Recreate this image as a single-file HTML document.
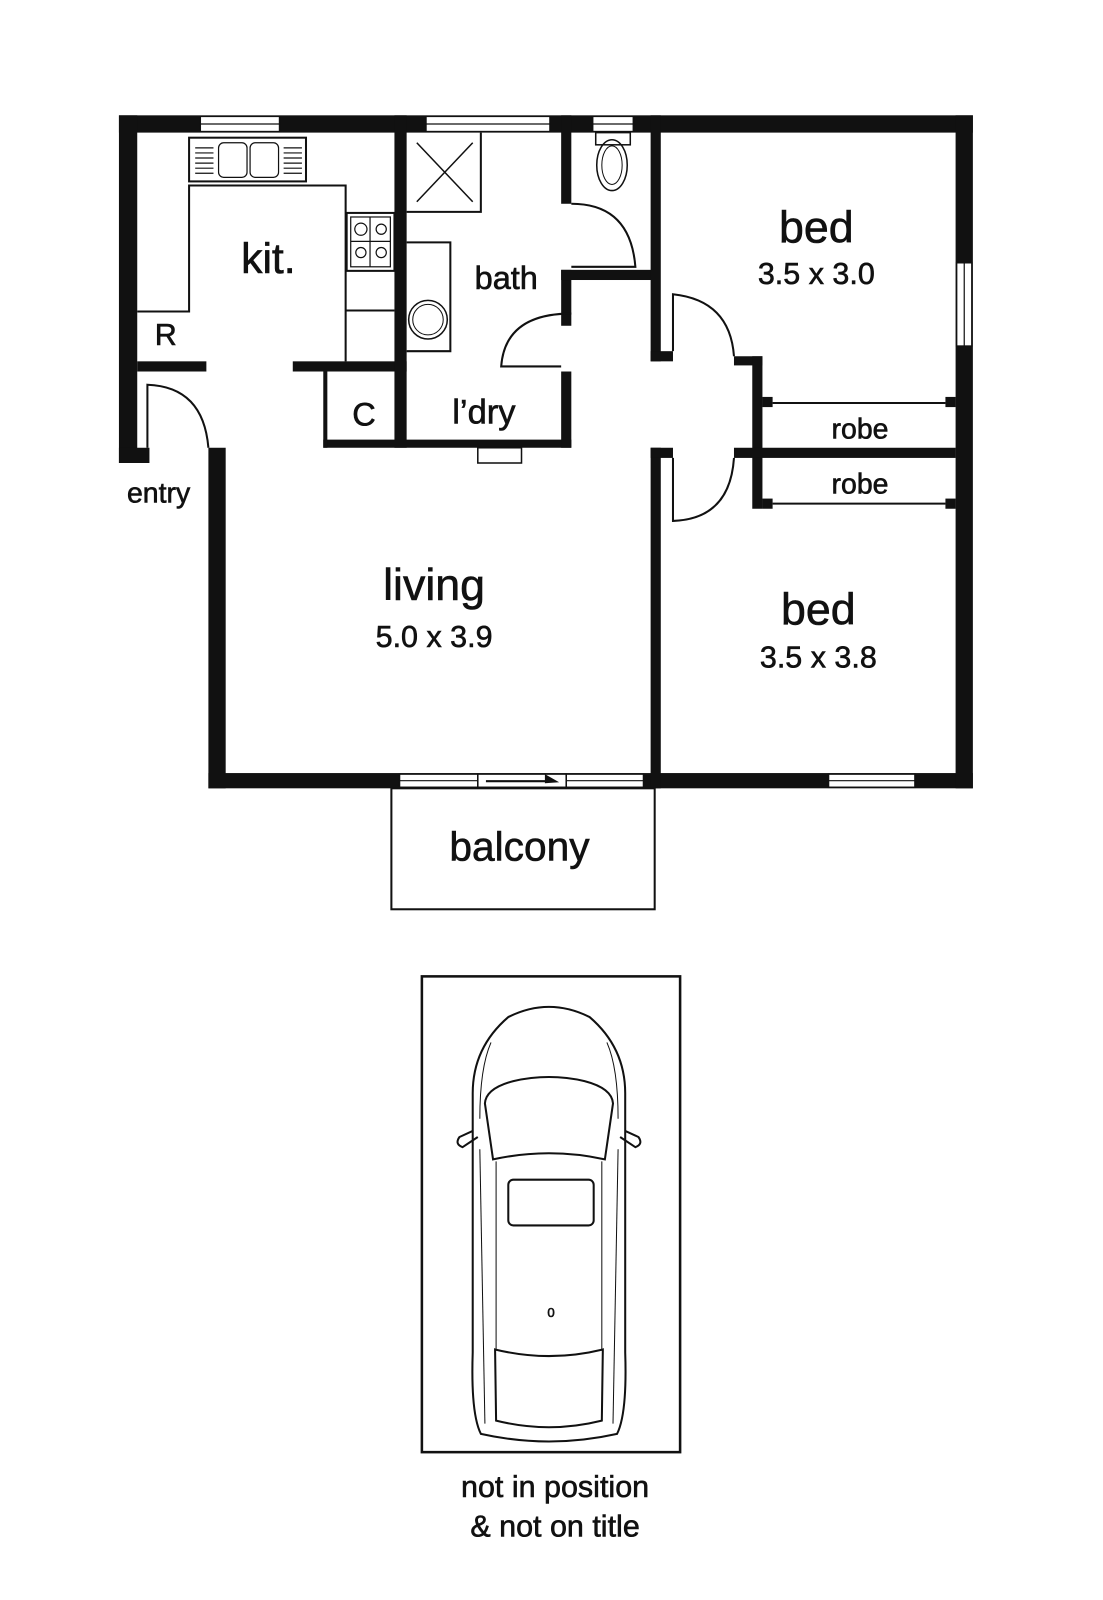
<!DOCTYPE html>
<html><head><meta charset="utf-8"><style>
html,body{margin:0;padding:0;background:#fff;}
svg{display:block;}
text{font-family:"Liberation Sans",Arial,sans-serif;fill:#111;stroke:#111;stroke-width:0.6;}
</style></head><body>
<svg width="1103" height="1600" viewBox="0 0 1085 1573" xmlns="http://www.w3.org/2000/svg">
<g fill="#111">
<rect x="117" y="113" width="840" height="17"/>
<rect x="117" y="113" width="18" height="342"/>
<rect x="117" y="440" width="30" height="15"/>
<rect x="205" y="440" width="17" height="335"/>
<rect x="205" y="760" width="752" height="15"/>
<rect x="940" y="113" width="17" height="662"/>
<rect x="135" y="355" width="68" height="10"/>
<rect x="288" y="355" width="112" height="10"/>
<rect x="388" y="113" width="12" height="327"/>
<rect x="318" y="432" width="244" height="8"/>
<rect x="318" y="365" width="4" height="75"/>
<rect x="552" y="365" width="10" height="75"/>
<rect x="552" y="265" width="10" height="55"/>
<rect x="552" y="113" width="10" height="87"/>
<rect x="552" y="265" width="90" height="10"/>
<rect x="640" y="113" width="10" height="242"/>
<rect x="640" y="345" width="22" height="10"/>
<rect x="640" y="440" width="10" height="335"/>
<rect x="640" y="440" width="22" height="10"/>
<rect x="722" y="350" width="28" height="9"/>
<rect x="740" y="350" width="10" height="150"/>
<rect x="722" y="440" width="218" height="10"/>
<rect x="750" y="390" width="10" height="10"/>
<rect x="930" y="390" width="10" height="10"/>
<rect x="750" y="490" width="10" height="10"/>
<rect x="930" y="490" width="10" height="10"/>
</g>
<g fill="#fff" stroke="#111" stroke-width="1.5">
<rect x="197" y="114" width="78" height="15"/>
<rect x="419" y="114" width="122" height="15"/>
<rect x="583" y="114" width="40" height="15"/>
<rect x="941" y="258" width="15" height="82"/>
<rect x="393" y="761" width="77" height="13"/>
<rect x="470" y="761" width="87" height="13"/>
<rect x="557" y="761" width="76" height="13"/>
<rect x="815" y="761" width="85" height="13"/>
</g>
<g stroke="#111" stroke-width="1.2">
<line x1="197" y1="121.5" x2="275" y2="121.5"/>
<line x1="419" y1="121.5" x2="541" y2="121.5"/>
<line x1="583" y1="121.5" x2="623" y2="121.5"/>
<line x1="948.5" y1="258" x2="948.5" y2="340"/>
<line x1="393" y1="767.5" x2="470" y2="767.5"/>
<line x1="557" y1="767.5" x2="633" y2="767.5"/>
<line x1="815" y1="767.5" x2="900" y2="767.5"/>
</g>
<line x1="478" y1="768" x2="540" y2="768" stroke="#111" stroke-width="2"/>
<polygon points="536,761 550,769 536,770" fill="#111"/>
<g fill="none" stroke="#111" stroke-width="2">
<line x1="760" y1="396" x2="930" y2="396"/>
<line x1="760" y1="495" x2="930" y2="495"/>
<path d="M135 306 H186 V182 H340 V355"/>
<rect x="186" y="135" width="115" height="43"/>
<rect x="341" y="209" width="47" height="57"/>
<line x1="340" y1="305" x2="388" y2="305"/>
<path d="M400 208 H473 V130"/>
<line x1="410" y1="140" x2="465" y2="198" stroke-width="1.5"/>
<line x1="465" y1="140" x2="410" y2="198" stroke-width="1.5"/>
<path d="M400 238 H443 V345 H400"/>
<circle cx="421" cy="314" r="19" stroke-width="1.5"/>
<circle cx="421" cy="314" r="15" stroke-width="1"/>
<rect x="586" y="130" width="34" height="12" stroke-width="1.5"/>
<ellipse cx="602" cy="162" rx="15" ry="25" stroke-width="1.5"/>
<ellipse cx="602" cy="162" rx="10" ry="19" stroke-width="1"/>
<path d="M562 200 Q620 200 625 262 L562 262"/>
<path d="M562 308 Q497 308 493 360 L552 360"/>
<path d="M145 440 V378 Q200 380 205 440"/>
<path d="M662 345 V289 Q718 295 722 350"/>
<path d="M662 450 V512 Q718 510 722 450"/>
<rect x="385" y="775" width="259" height="119"/>
<rect x="415" y="960" width="254" height="468" stroke-width="2.5"/>
</g>
<g fill="none" stroke="#111" stroke-width="1.2">
<rect x="215" y="140" width="28" height="34" rx="5"/>
<rect x="246" y="140" width="28" height="34" rx="5"/>
<line x1="192" y1="145" x2="210" y2="145"/><line x1="192" y1="150" x2="210" y2="150"/><line x1="192" y1="155" x2="210" y2="155"/><line x1="192" y1="160" x2="210" y2="160"/><line x1="192" y1="165" x2="210" y2="165"/><line x1="192" y1="170" x2="210" y2="170"/>
<line x1="279" y1="145" x2="297" y2="145"/><line x1="279" y1="150" x2="297" y2="150"/><line x1="279" y1="155" x2="297" y2="155"/><line x1="279" y1="160" x2="297" y2="160"/><line x1="279" y1="165" x2="297" y2="165"/><line x1="279" y1="170" x2="297" y2="170"/>
<rect x="345" y="213" width="39" height="49"/>
<circle cx="355" cy="225" r="6"/><circle cx="375" cy="225" r="5"/>
<circle cx="355" cy="248" r="5"/><circle cx="375" cy="248" r="5"/>
<line x1="364" y1="213" x2="364" y2="262"/><line x1="345" y1="237" x2="384" y2="237"/>
<rect x="470" y="440" width="43" height="15" stroke-width="1.5"/>
</g>
<g fill="none" stroke="#111" stroke-width="2">
<path d="M473 1410 Q463 1390 465 1330 V1075 Q465 1030 500 1000 Q540 980 580 1000 Q615 1030 615 1075 V1330 Q617 1390 607 1410 Q540 1425 473 1410 Z"/>
<path d="M485 1140 L477 1085 Q478 1070 505 1063 Q540 1055 575 1063 Q602 1070 603 1085 L595 1140 Q540 1128 485 1140 Z"/>
<rect x="500" y="1160" width="84" height="45" rx="5"/>
<path d="M487 1327 Q540 1340 593 1327 L592 1397 Q540 1410 488 1397 Z"/>
<path d="M465 1112 L452 1118 Q447 1125 455 1128 L470 1118"/>
<path d="M615 1112 L628 1118 Q633 1125 625 1128 L610 1118"/>
</g>
<g fill="none" stroke="#111" stroke-width="1">
<line x1="488" y1="1142" x2="488" y2="1327"/><line x1="592" y1="1142" x2="592" y2="1327"/>
<line x1="472" y1="1130" x2="477" y2="1400"/><line x1="608" y1="1130" x2="603" y2="1400"/>
<path d="M483 1025 Q472 1050 472 1100"/><path d="M597 1025 Q608 1050 608 1100"/>
</g>
<text x="542" y="1295" font-size="13" text-anchor="middle" stroke-width="0">0</text>
<text x="264" y="268" font-size="42" text-anchor="middle">kit.</text>
<text x="163" y="339" font-size="30" text-anchor="middle">R</text>
<text x="358" y="418" font-size="32" text-anchor="middle">C</text>
<text x="498" y="284" font-size="32" text-anchor="middle">bath</text>
<text x="476" y="416" font-size="34" text-anchor="middle">l’dry</text>
<text x="156" y="494" font-size="28" text-anchor="middle">entry</text>
<text x="803" y="238" font-size="44" text-anchor="middle">bed</text>
<text x="803" y="279" font-size="30" text-anchor="middle">3.5 x 3.0</text>
<text x="846" y="431" font-size="28" text-anchor="middle">robe</text>
<text x="846" y="485" font-size="28" text-anchor="middle">robe</text>
<text x="805" y="614" font-size="44" text-anchor="middle">bed</text>
<text x="805" y="656" font-size="30" text-anchor="middle">3.5 x 3.8</text>
<text x="427" y="590" font-size="44" text-anchor="middle">living</text>
<text x="427" y="636" font-size="30" text-anchor="middle">5.0 x 3.9</text>
<text x="511" y="846" font-size="40" text-anchor="middle">balcony</text>
<text x="546" y="1472" font-size="30" text-anchor="middle">not in position</text>
<text x="546" y="1511" font-size="30" text-anchor="middle">&amp; not on title</text>
</svg>
</body></html>
